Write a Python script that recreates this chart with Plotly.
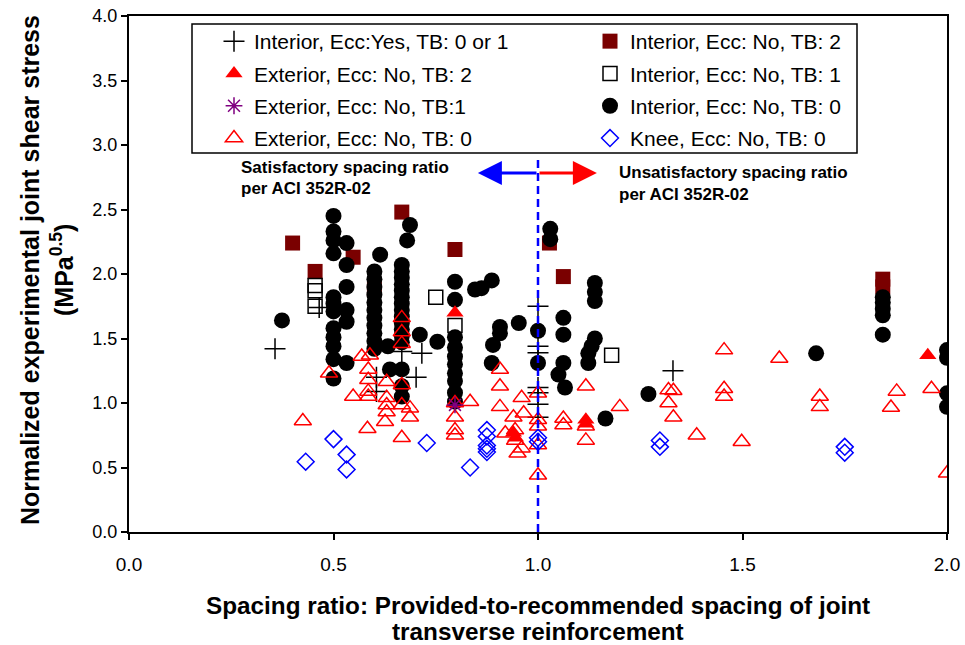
import plotly.graph_objects as go

# ---------------- data ----------------
ecc_yes_x = [0.357, 0.465, 0.605, 0.605, 0.667, 0.716, 0.702, 1.0, 1.0, 1.0, 1.0, 1.0, 1.0, 1.0, 1.33]
ecc_yes_y = [1.42, 1.74, 1.20, 1.09, 1.40, 1.385, 1.20, 1.75, 1.44, 1.39, 1.12, 1.08, 0.99, 0.89, 1.25]

int_tb2_x = [0.40, 0.455, 0.548, 0.60, 0.667, 0.797, 1.028, 1.062, 1.843, 1.843]
int_tb2_y = [2.24, 2.02, 2.13, 1.88, 2.48, 2.19, 2.24, 1.98, 1.96, 1.90]

ext_tb2_x = [0.797, 0.94, 0.945, 1.117, 1.117, 1.953]
ext_tb2_y = [1.70, 0.77, 0.73, 0.87, 0.84, 1.37]

int_tb1_x = [0.455, 0.455, 0.455, 0.75, 0.797, 1.18]
int_tb1_y = [1.91, 1.87, 1.75, 1.82, 1.60, 1.37]

ext_tb1_x = [0.797]
ext_tb1_y = [0.985]

int_tb0_x = [0.374,
             0.50, 0.50, 0.50, 0.50, 0.50, 0.50, 0.50, 0.50, 0.50, 0.50, 0.50, 0.50,
             0.532, 0.532, 0.532, 0.532, 0.532, 0.532,
             0.614,
             0.60, 0.60, 0.60, 0.60, 0.60, 0.60, 0.60, 0.60, 0.60, 0.60, 0.60,
             0.633, 0.638,
             0.667, 0.667, 0.667, 0.667, 0.667, 0.667, 0.667, 0.667, 0.667, 0.667, 0.667, 0.667, 0.667, 0.667, 0.667, 0.667,
             0.687, 0.68, 0.711, 0.754,
             0.797, 0.797, 0.797, 0.797, 0.797, 0.797, 0.797, 0.797, 0.797, 0.797,
             0.846, 0.862, 0.887, 0.907, 0.907, 0.89, 0.887, 0.953,
             1.0, 1.0, 1.03, 1.03,
             1.062, 1.062, 1.062, 1.05, 1.066,
             1.139, 1.139, 1.139, 1.139, 1.131, 1.123, 1.123,
             1.165, 1.27, 1.68,
             1.843, 1.843, 1.843, 1.843, 1.843,
             2.0, 2.0, 2.0, 2.0]
int_tb0_y = [1.64,
             2.45, 2.33, 2.26, 2.16, 1.82, 1.77, 1.71, 1.58, 1.51, 1.44, 1.34, 1.19,
             2.24, 2.07, 1.90, 1.72, 1.63, 1.31,
             2.15,
             2.02, 1.96, 1.90, 1.84, 1.78, 1.72, 1.66, 1.60, 1.54, 1.48, 1.42,
             1.44, 1.26,
             2.07, 2.02, 1.97, 1.92, 1.87, 1.82, 1.77, 1.72, 1.67, 1.62, 1.57, 1.52, 1.47, 1.26, 1.13, 1.05,
             2.38, 2.26, 1.53, 1.475,
             1.94, 1.80, 1.51, 1.43, 1.36, 1.30, 1.23, 1.17, 1.08, 1.01,
             1.88, 1.89, 1.95, 1.59, 1.54, 1.45, 1.31, 1.62,
             1.56, 1.31, 2.35, 2.27,
             1.66, 1.53, 1.31, 1.22, 1.12,
             1.93, 1.86, 1.79, 1.50, 1.44, 1.385, 1.31,
             0.88, 1.07, 1.385,
             1.82, 1.78, 1.73, 1.68, 1.53,
             1.41, 1.35, 1.075, 0.97]

ext_tb0_x = [0.425, 0.489, 0.548, 0.569, 0.589, 0.585, 0.585, 0.585, 0.585, 0.583,
             0.63, 0.63, 0.63, 0.63, 0.626,
             0.667, 0.667, 0.667, 0.667, 0.667, 0.687, 0.687, 0.667,
             0.797, 0.797, 0.797, 0.797, 0.834,
             0.907, 0.907, 0.907, 0.96, 0.965, 0.94, 0.92, 0.944, 0.944, 0.96, 0.95,
             1.0, 1.0, 1.0, 1.0, 1.0, 1.062, 1.062,
             1.117, 1.117, 1.117, 1.20, 1.319, 1.331, 1.319, 1.331, 1.388,
             1.455, 1.455, 1.455, 1.498, 1.59, 1.689, 1.689, 1.877, 1.863, 1.962, 2.0]
ext_tb0_y = [0.86, 1.23, 1.05, 1.36, 1.37, 1.26, 1.18, 1.09, 1.05, 0.80,
             1.165, 1.04, 0.985, 0.93, 0.855,
             1.66, 1.55, 1.46, 1.14, 0.985, 0.96, 0.89, 0.73,
             1.0, 0.89, 0.79, 0.75, 1.01,
             1.26, 1.13, 0.97, 1.04, 0.92, 0.89, 0.765, 0.79, 0.71, 0.65, 0.61,
             1.075, 0.87, 0.82, 0.675, 0.44, 0.88, 0.83,
             1.13, 0.82, 0.71, 0.97, 1.10, 1.095, 1.0, 0.89, 0.75,
             1.41, 1.11, 1.05, 0.70, 1.345, 1.05, 0.97, 1.09, 0.965, 1.11, 0.455]

knee_x = [0.432, 0.50, 0.532, 0.532, 0.728, 0.834, 0.875, 0.875, 0.875, 0.875, 0.875,
          1.0, 1.0, 1.298, 1.298, 1.75, 1.75]
knee_y = [0.545, 0.72, 0.60, 0.485, 0.69, 0.50, 0.79, 0.74, 0.67, 0.645, 0.62,
          0.73, 0.70, 0.71, 0.66, 0.66, 0.615]

x_ticks = [0.0, 0.5, 1.0, 1.5, 2.0]
y_ticks = [0.0, 0.5, 1.0, 1.5, 2.0, 2.5, 3.0, 3.5, 4.0]

FONT = "Liberation Sans, Arial, sans-serif"

# plot-area geometry (pixels) used to place paper-referenced decorations
L, R, T, B = 129, 947, 16, 532
PW, PH = R - L, B - T


def px(p):
    return (p - L) / PW


def py(q):
    return (B - q) / PH


fig = go.Figure()


def add(x, y, name, symbol, color, size, legend, rank, lw=0, lc=None):
    fig.add_trace(go.Scatter(
        x=x, y=y, mode="markers", name=name, legend=legend, legendrank=rank,
        legendgroup=name,
        marker=dict(symbol=symbol, color=color, size=size,
                    line=dict(width=lw, color=lc if lc else color)),
    ))


# drawing order
add(int_tb2_x, int_tb2_y, "Interior, Ecc: No, TB: 2", "square", "#7a0000", 15, "legend2", 1)
add(int_tb0_x, int_tb0_y, "Interior, Ecc: No, TB: 0", "circle", "black", 16, "legend2", 3)
add(int_tb1_x, int_tb1_y, "Interior, Ecc: No, TB: 1", "square-open", "black", 14, "legend2", 2, 1.5)
add(ecc_yes_x, ecc_yes_y, "Interior, Ecc:Yes, TB: 0 or 1", "cross-thin-open", "black", 15, "legend", 1, 1.5)
add(ext_tb0_x, ext_tb0_y, "Exterior, Ecc: No, TB: 0", "triangle-up-open", "red", 15, "legend", 4, 1.5)
add(ext_tb2_x, ext_tb2_y, "Exterior, Ecc: No, TB: 2", "triangle-up", "red", 15, "legend", 2)
add(ext_tb1_x, ext_tb1_y, "Exterior, Ecc: No, TB:1", "asterisk-open", "#800080", 14, "legend", 3, 1.5)
add(knee_x, knee_y, "Knee, Ecc: No, TB: 0", "diamond-open", "blue", 13, "legend2", 4, 1.5)

# dashed separator at spacing ratio 1.0
fig.add_shape(type="line", x0=1.0, x1=1.0, y0=0, y1=2.92, xref="x", yref="y",
              line=dict(color="blue", width=2.5, dash="8px,5px"), layer="above")

# legend frame
fig.add_shape(type="rect", xref="paper", yref="paper",
              x0=px(192), x1=px(857), y0=py(153), y1=py(24),
              line=dict(color="black", width=1.5), fillcolor="white", layer="below")

ann = []
# arrows
ann.append(dict(x=0.853, y=2.783, ax=1.0, ay=2.783, xref="x", yref="y", axref="x", ayref="y",
                text="", showarrow=True, arrowhead=2, arrowsize=1.6, arrowwidth=3, arrowcolor="blue"))
ann.append(dict(x=1.144, y=2.783, ax=1.0, ay=2.783, xref="x", yref="y", axref="x", ayref="y",
                text="", showarrow=True, arrowhead=2, arrowsize=1.6, arrowwidth=3, arrowcolor="red"))
bold = dict(family=FONT, size=17, color="black")
ann.append(dict(x=0.269, y=2.822, xref="x", yref="y", text="<b>Satisfactory spacing ratio</b>",
                showarrow=False, xanchor="left", yanchor="middle", font=bold))
ann.append(dict(x=0.269, y=2.659, xref="x", yref="y", text="<b>per ACI 352R-02</b>",
                showarrow=False, xanchor="left", yanchor="middle", font=bold))
ann.append(dict(x=1.193, y=2.783, xref="x", yref="y", text="<b>Unsatisfactory spacing ratio</b>",
                showarrow=False, xanchor="left", yanchor="middle", font=bold))
ann.append(dict(x=1.193, y=2.62, xref="x", yref="y", text="<b>per ACI 352R-02</b>",
                showarrow=False, xanchor="left", yanchor="middle", font=bold))
# axis titles
tfont = dict(family=FONT, size=24.3, color="black")
yfont = dict(family=FONT, size=25, color="black")
ann.append(dict(x=0.5, y=py(605), xref="paper", yref="paper",
                text="<b>Spacing ratio: Provided-to-recommended spacing of joint</b>",
                showarrow=False, xanchor="center", yanchor="middle", font=tfont))
ann.append(dict(x=0.5, y=py(631), xref="paper", yref="paper",
                text="<b>transverse reinforcement</b>",
                showarrow=False, xanchor="center", yanchor="middle", font=tfont))
ann.append(dict(x=px(30), y=py(270), xref="paper", yref="paper",
                text="<b>Normalized experimental joint shear stress</b>", textangle=-90,
                showarrow=False, xanchor="center", yanchor="middle", font=yfont))
ann.append(dict(x=px(62), y=py(270), xref="paper", yref="paper",
                text="<b>(MPa<sup>0.5</sup>)</b>", textangle=-90,
                showarrow=False, xanchor="center", yanchor="middle", font=yfont))

legend_common = dict(font=dict(family=FONT, size=21, color="black"), bgcolor="rgba(0,0,0,0)",
                     borderwidth=0, orientation="v", tracegroupgap=2,
                     xanchor="left", yanchor="top", itemsizing="trace")

fig.update_layout(
    width=965, height=645,
    margin=dict(l=L, r=965 - R, t=T, b=645 - B, autoexpand=False),
    paper_bgcolor="white", plot_bgcolor="white",
    font=dict(family=FONT, color="black"),
    annotations=ann,
    legend=dict(x=px(214), y=py(21), **legend_common),
    legend2=dict(x=px(590), y=py(21), **legend_common),
    xaxis=dict(range=[0, 2.0], tickvals=x_ticks, ticktext=[f"{v:.1f}" for v in x_ticks],
               showgrid=False, zeroline=False, showline=True, linecolor="black", linewidth=2,
               mirror=True, ticks="outside", ticklen=6, tickwidth=1.5, tickcolor="black",
               ticklabelstandoff=8,
               tickfont=dict(family=FONT, size=19, color="black")),
    yaxis=dict(range=[0, 4.0], tickvals=y_ticks, ticktext=[f"{v:.1f}" for v in y_ticks],
               showgrid=False, zeroline=False, showline=True, linecolor="black", linewidth=2,
               mirror=True, ticks="outside", ticklen=6, tickwidth=1.5, tickcolor="black",
               tickfont=dict(family=FONT, size=18, color="black")),
)

fig.write_html("out.html")
